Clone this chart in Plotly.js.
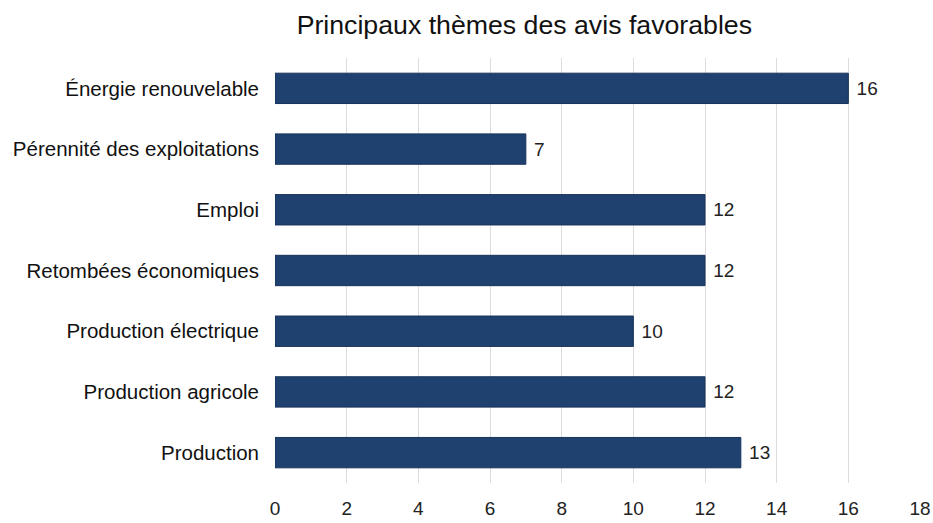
<!DOCTYPE html>
<html>
<head>
<meta charset="utf-8">
<script src="https://cdn.plot.ly/plotly-3.0.1.min.js"></script>
<style>html,body{margin:0;padding:0;background:#fff;}#chart{width:933px;height:523px;}</style>
</head>
<body>
<div id="chart"></div>
<script>
const categories = ["Production", "Production agricole", "Production électrique", "Retombées économiques", "Emploi", "Pérennité des exploitations", "Énergie renouvelable"];
const values = [13, 12, 10, 12, 12, 7, 16];
const xTicks = [0, 2, 4, 6, 8, 10, 12, 14, 16, 18];

const FONT = "Liberation Sans, Arial, sans-serif";
Plotly.newPlot("chart", [{
  type: "bar",
  orientation: "h",
  y: categories,
  x: values,
  width: 0.5,
  marker: {color: "#1f4170", line: {color: "#17325a", width: 1}},
  text: values.map(v => " " + v),
  textposition: "outside",
  cliponaxis: false,
  textfont: {family: FONT, size: 19, color: "#222"},
  hoverinfo: "none"
}], {
  width: 933, height: 523,
  margin: {l: 275, r: 13, t: 58, b: 40},
  paper_bgcolor: "#fff", plot_bgcolor: "#fff",
  title: {text: "Principaux thèmes des avis favorables", x: 0.562, xanchor: "center", y: 0.952, yanchor: "middle",
          font: {family: FONT, size: 26.7, color: "#111"}},
  xaxis: {range: [0, 18], tickvals: xTicks, ticktext: xTicks.map(String), showgrid: true, gridcolor: "#dcdcdc", gridwidth: 1,
          zeroline: false, showline: false, ticks: "", ticklen: 0, ticklabelstandoff: 12,
          tickfont: {family: FONT, size: 19, color: "#222"}},
  yaxis: {showgrid: false, zeroline: false, showline: false, ticks: "", ticklabelstandoff: 15,
          tickfont: {family: FONT, size: 20.5, color: "#111"}},
  showlegend: false
}, {displayModeBar: false, staticPlot: true});
</script>
</body>
</html>
